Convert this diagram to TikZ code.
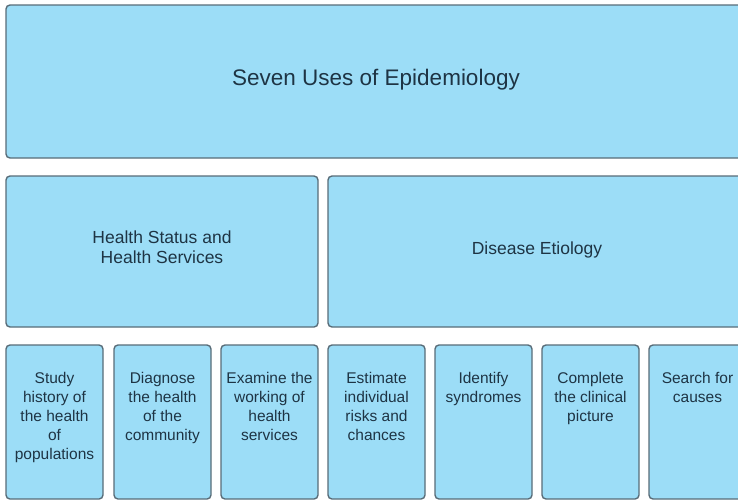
\documentclass[tikz,border=0pt]{standalone}
\usepackage{fontspec}
\setmainfont{Liberation Sans}
\definecolor{boxfill}{RGB}{156,221,247}
\definecolor{boxline}{RGB}{88,108,120}
\definecolor{ink}{RGB}{30,52,68}
\tikzset{
  panel/.style={draw=boxline, line width=1.4pt, fill=boxfill, rounded corners=4pt, inner sep=0pt},
  caption/.style={text=ink, align=center, inner sep=0pt},
  bigtext/.style={caption, font=\fontsize{22.5}{26}\selectfont},
  midtext/.style={caption, font=\fontsize{17.5}{20}\selectfont},
  smalltext/.style={caption, font=\fontsize{15.5}{19}\selectfont, anchor=north},
}
\begin{document}
\begin{tikzpicture}[x=1pt,y=-1pt]
\useasboundingbox (0,0) rectangle (738,501);
\begin{scope}
\clip (0,0) rectangle (738,501);
% top panel
\node[panel, minimum width=740pt, minimum height=153pt] (top) at (376,81.5) {};
\node[bigtext] (toptxt) at (376,80) {Seven Uses of Epidemiology};
% second row
\node[panel, minimum width=312pt, minimum height=151pt] (hs) at (162,251.5) {};
\node[midtext] (hstxt) at (162,247) {Health Status and\\Health Services};
\node[panel, minimum width=418pt, minimum height=151pt] (de) at (537,251.5) {};
\node[midtext] (detxt) at (537,250) {Disease Etiology};
% bottom row
\foreach \i/\x/\t in {
  1/54.5/{Study\\history of\\the health\\of\\populations},
  2/162.5/{Diagnose\\the health\\of the\\community},
  3/269.5/{Examine the\\working of\\health\\services},
  4/376.5/{Estimate\\individual\\risks and\\chances},
  5/483.5/{Identify\\syndromes},
  6/590.5/{Complete\\the clinical\\picture},
  7/697.5/{Search for\\causes}}{
  \node[panel, minimum width=97pt, minimum height=154pt] (b\i) at (\x,422) {};
  \node[smalltext] (t\i) at (\x,372) {\t};
}
\end{scope}
\end{tikzpicture}
\end{document}
